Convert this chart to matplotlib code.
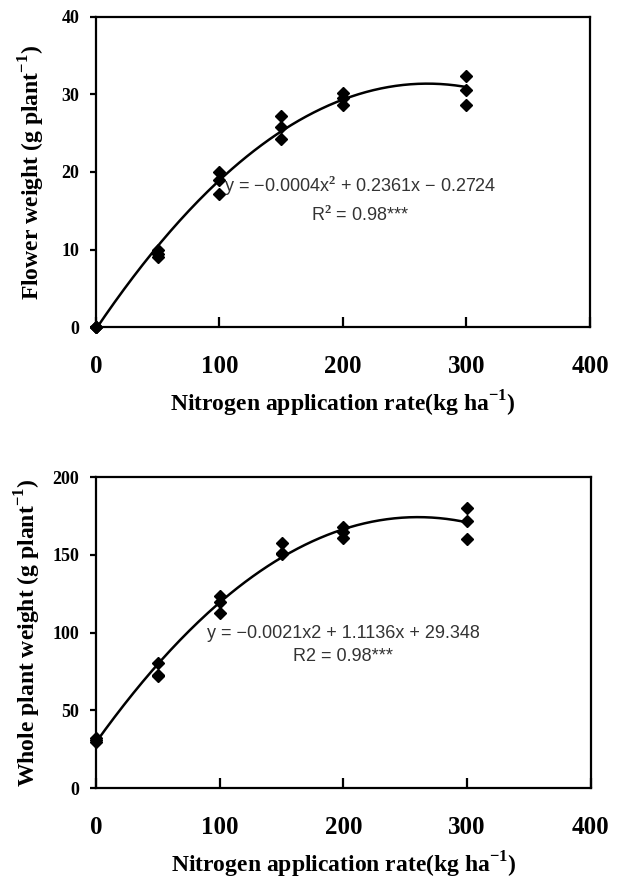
"""Nitrogen rate response: flower weight and whole plant weight (two panels)."""

import matplotlib
matplotlib.use("Agg")
import matplotlib.pyplot as plt
import numpy as np

plt.rcParams["mathtext.fontset"] = "custom"
plt.rcParams["mathtext.rm"] = "Liberation Serif:bold"
plt.rcParams["mathtext.bf"] = "Liberation Serif:bold"

# ── data ─────────────────────────────────────────────────────────────
n_rate = [0, 0, 0, 50, 50, 50, 100, 100, 100, 150, 150, 150, 200, 200, 200, 300, 300, 300]
flower_wt = [0.0, 0.0, 0.0, 9.9, 9.0, 9.4, 20.0, 17.2, 19.0, 27.2, 25.8, 24.2,
             30.2, 29.5, 28.6, 32.4, 30.6, 28.7]
whole_wt = [32.0, 29.8, 31.0, 80.6, 71.8, 72.8, 123.3, 119.5, 112.8, 157.4, 151.0, 150.2,
            167.6, 164.8, 161.0, 179.9, 171.5, 160.3]

# quadratic trendline coefficients (a, b, c)
flower_fit = [-0.00044, 0.2361, -0.2724]
whole_fit = [-0.00214, 1.1136, 29.348]

flower_eq = "y = \u22120.0004x$^{2}$ + 0.2361x \u2212 0.2724"
flower_r2 = "R$^{2}$ = 0.98***"
whole_eq = "y = \u22120.0021x2 + 1.1136x + 29.348"
whole_r2 = "R2 = 0.98***"

x_ticks = [0, 100, 200, 300, 400]
flower_yticks = [0, 10, 20, 30, 40]
whole_yticks = [0, 50, 100, 150, 200]

SERIF = "Liberation Serif"
SANS = "Liberation Sans"


def _panel(ax, y, fit, yticks, ylabel, eq, r2, eq_xy, r2_xy, ylab_x):
    xs = np.linspace(0, 300, 200)
    ax.plot(xs, np.polyval(fit, xs), color="black", linewidth=1.8, zorder=2)
    ax.plot(n_rate, y, linestyle="none", marker="D", markersize=6.5,
            color="black", zorder=3, clip_on=False)
    ax.set_xlim(0, 400)
    ax.set_ylim(yticks[0], yticks[-1])
    ax.set_xticks(x_ticks)
    ax.set_yticks(yticks)
    for s in ax.spines.values():
        s.set_linewidth(1.6)
    ax.tick_params(axis="x", direction="in", length=7, width=1.6, pad=20,
                   labelsize=18)
    ax.tick_params(axis="y", direction="out", length=4, width=1.6, pad=8,
                   labelsize=13)
    for lab in ax.get_xticklabels() + ax.get_yticklabels():
        lab.set_fontfamily(SERIF)
        lab.set_fontweight("bold")
    ax.set_xlabel("Nitrogen application rate(kg ha$^{-1}$)", fontsize=17,
                  fontfamily=SERIF, fontweight="bold", labelpad=8)
    ax.set_ylabel(ylabel, fontsize=17, fontfamily=SERIF, fontweight="bold")
    ax.yaxis.set_label_coords(ylab_x, 0.5)
    ax.text(eq_xy[0], eq_xy[1], eq, ha="center", va="center", fontsize=13,
            fontfamily=SANS, color="#333333")
    ax.text(r2_xy[0], r2_xy[1], r2, ha="center", va="center", fontsize=13,
            fontfamily=SANS, color="#333333")


fig = plt.figure(figsize=(6.23, 8.80), dpi=100)
ax1 = fig.add_axes([0.154, 0.6284, 0.793, 0.3523])
ax2 = fig.add_axes([0.154, 0.1045, 0.7945, 0.3534])

_panel(ax1, flower_wt, flower_fit, flower_yticks, "Flower weight (g plant$^{-1}$)",
       flower_eq, flower_r2, (214, 18.2), (214, 14.5), -0.099)
_panel(ax2, whole_wt, whole_fit, whole_yticks, "Whole plant weight (g plant$^{-1}$)",
       whole_eq, whole_r2, (200, 99.7), (200, 84.9), -0.107)

fig.savefig("out.png", dpi=100)
